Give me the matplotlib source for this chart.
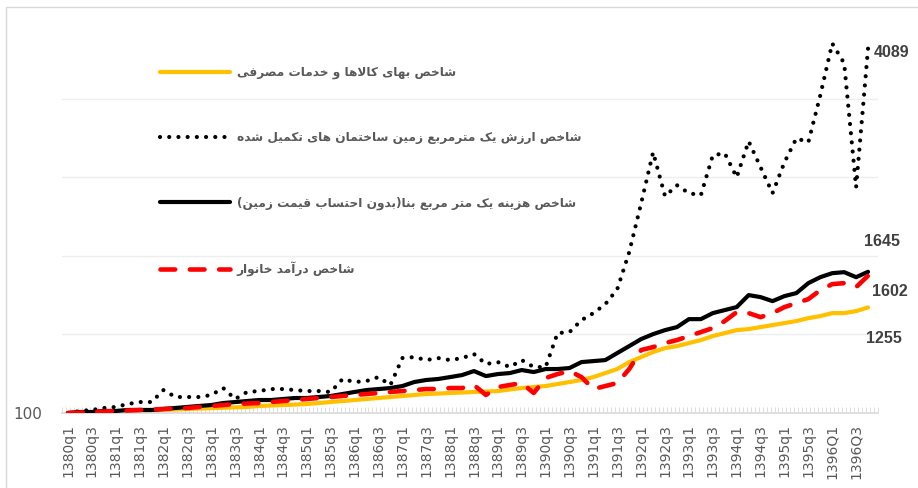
import matplotlib
matplotlib.use("Agg")
import matplotlib.pyplot as plt
from matplotlib.patches import Rectangle
import numpy as np

# quarters 1380q1 .. 1396Q4
quarters = [f"{y}q{q}" if y < 1396 else f"{y}Q{q}" for y in range(1380, 1397) for q in range(1, 5)]

cpi = [100, 104, 108, 112, 117, 121, 126, 130, 135, 139, 144, 149, 153, 158, 162, 166,
       177, 182, 187, 192, 198, 209, 220, 231, 242, 253, 264, 275, 286, 297, 308, 313,
       319, 324, 330, 335, 340, 357, 373, 384, 395, 417, 439, 461, 493, 537, 581, 657,
       712, 767, 810, 832, 865, 898, 942, 974, 1007, 1018, 1040, 1062, 1084, 1106, 1138, 1160,
       1193, 1193, 1215, 1255]

land = [100, 122, 133, 155, 166, 198, 220, 220, 351, 275, 275, 275, 297, 373, 253, 330,
        340, 362, 362, 351, 340, 340, 330, 472, 439, 450, 493, 406, 701, 712, 679, 701,
        679, 701, 745, 636, 657, 603, 679, 603, 603, 974, 985, 1116, 1193, 1291, 1455, 1860,
        2395, 2953, 2472, 2592, 2505, 2483, 2920, 2942, 2679, 3073, 2789, 2505, 2843, 3106, 3062, 3576,
        4144, 3926, 2570, 4089]

build = [100, 111, 111, 122, 122, 133, 133, 133, 144, 155, 166, 177, 187, 209, 220, 231,
         242, 242, 253, 264, 264, 275, 286, 308, 330, 351, 362, 373, 395, 439, 461, 472,
         493, 515, 559, 504, 526, 537, 570, 548, 581, 581, 592, 657, 668, 679, 756, 832,
         909, 963, 1007, 1040, 1127, 1127, 1193, 1226, 1259, 1390, 1368, 1324, 1379, 1412, 1521, 1586,
         1630, 1641, 1586, 1645]

income = [100, 105, 111, 116, 122, 127, 133, 138, 144, 149, 155, 166, 177, 187, 198, 204,
          209, 220, 231, 242, 253, 264, 275, 286, 297, 308, 319, 330, 340, 351, 362, 362,
          373, 373, 406, 297, 384, 406, 428, 319, 483, 526, 559, 493, 362, 395, 428, 581,
          789, 821, 865, 898, 942, 985, 1029, 1106, 1204, 1193, 1149, 1193, 1259, 1302, 1346, 1444,
          1510, 1521, 1477, 1602]

names = ["شاخص بهای کالاها و خدمات مصرفی",
         "شاخص ارزش یک مترمربع زمین ساختمان های تکمیل شده",
         "شاخص هزینه یک متر مربع بنا(بدون احتساب قیمت زمین)",
         "شاخص درآمد خانوار"]

# arabic contextual forms (isolated, final, initial, medial)
FORMS = {
    'ا': ('\uFE8D', '\uFE8E', None, None),
    'آ': ('\uFE81', '\uFE82', None, None),
    'ب': ('\uFE8F', '\uFE90', '\uFE91', '\uFE92'),
    'ت': ('\uFE95', '\uFE96', '\uFE97', '\uFE98'),
    'ح': ('\uFEA1', '\uFEA2', '\uFEA3', '\uFEA4'),
    'خ': ('\uFEA5', '\uFEA6', '\uFEA7', '\uFEA8'),
    'د': ('\uFEA9', '\uFEAA', None, None),
    'ر': ('\uFEAD', '\uFEAE', None, None),
    'ز': ('\uFEAF', '\uFEB0', None, None),
    'س': ('\uFEB1', '\uFEB2', '\uFEB3', '\uFEB4'),
    'ش': ('\uFEB5', '\uFEB6', '\uFEB7', '\uFEB8'),
    'ص': ('\uFEB9', '\uFEBA', '\uFEBB', '\uFEBC'),
    'ع': ('\uFEC9', '\uFECA', '\uFECB', '\uFECC'),
    'ف': ('\uFED1', '\uFED2', '\uFED3', '\uFED4'),
    'ق': ('\uFED5', '\uFED6', '\uFED7', '\uFED8'),
    'ل': ('\uFEDD', '\uFEDE', '\uFEDF', '\uFEE0'),
    'م': ('\uFEE1', '\uFEE2', '\uFEE3', '\uFEE4'),
    'ن': ('\uFEE5', '\uFEE6', '\uFEE7', '\uFEE8'),
    'ه': ('\uFEE9', '\uFEEA', '\uFEEB', '\uFEEC'),
    'و': ('\uFEED', '\uFEEE', None, None),
    'ی': ('\uFBFC', '\uFBFD', '\uFBFE', '\uFBFF'),
    'ک': ('\uFB8E', '\uFB8F', '\uFB90', '\uFB91'),
    'لا': ('\uFEFB', '\uFEFC', None, None),
}


def shape(s):
    toks = []
    i = 0
    while i < len(s):
        if s[i] == 'ل' and i + 1 < len(s) and s[i + 1] == 'ا':
            toks.append('لا')
            i += 2
        else:
            toks.append(s[i])
            i += 1
    out = []
    for k, t in enumerate(toks):
        if t not in FORMS:
            out.append(t)
            continue
        f = FORMS[t]
        prev = toks[k - 1] if k > 0 else None
        nxt = toks[k + 1] if k + 1 < len(toks) else None
        jp = prev in FORMS and FORMS[prev][2] is not None
        jn = f[2] is not None and nxt in FORMS
        if jp and jn:
            out.append(f[3])
        elif jp:
            out.append(f[1])
        elif jn:
            out.append(f[2])
        else:
            out.append(f[0])
    vis = ''.join(reversed(out))
    return vis.translate({ord('('): ')', ord(')'): '('})


x = np.arange(len(quarters))
grey = '#595959'

fig = plt.figure(figsize=(9.18, 4.88), dpi=100)
ax = fig.add_axes([62 / 918, 1 - 413 / 488, 816 / 918, 393 / 488])

l1, = ax.plot(x, cpi, color='#ffc000', lw=3, zorder=2, solid_capstyle='round')
l2, = ax.plot(x, land, color='black', lw=3, zorder=3, linestyle=(0, (0.01, 2.2)),
              dash_capstyle='round')
l3, = ax.plot(x, build, color='black', lw=3, zorder=4, solid_capstyle='round')
l4, = ax.plot(x, income, color='#ff0000', lw=3.3, zorder=5, linestyle=(0, (3.2, 3.2)),
              dash_capstyle='round')

ax.set_xlim(-0.5, len(quarters) - 0.5)
ax.set_ylim(100, 4400)

ax.set_xticks(x[::2])
ax.set_xticklabels(quarters[::2], rotation=90, fontsize=10, color=grey)
ax.set_xticks(np.arange(-0.5, len(quarters), 1 / 3), minor=True)
ax.tick_params(axis='x', which='major', length=0, pad=8)
ax.tick_params(axis='x', which='minor', length=4, color='#d9d9d9', direction='in')

ax.set_yticks([100])
ax.set_yticklabels(['100'], fontsize=11, color=grey)
ax.tick_params(axis='y', length=0, pad=14)
for g in [960, 1820, 2680, 3540]:
    ax.axhline(g, color='#eeeeee', lw=1, zorder=0)

for s in ['top', 'right', 'left']:
    ax.spines[s].set_visible(False)
ax.spines['bottom'].set_color('#d9d9d9')
ax.spines['bottom'].set_linewidth(1.2)

# end labels
ends = [(land[-1], 6, -4), (build[-1], -4, 30), (income[-1], 4, -16), (cpi[-1], -2, -31)]
for v, dx, dy in ends:
    ax.annotate(f"{v}", xy=(x[-1], v), xytext=(dx, dy), textcoords='offset pixels',
                ha='left', va='center', fontsize=11.5, fontweight='bold',
                family='Liberation Sans', color='#404040')

leg = ax.legend([l1, l2, l3, l4], [shape(n) for n in names],
                loc='upper left', bbox_to_anchor=(160 / 918, 1 - 66 / 488),
                bbox_transform=fig.transFigure, frameon=False,
                prop={'family': 'DejaVu Sans', 'weight': 'bold', 'size': 8.7},
                handlelength=5.8, handletextpad=0.55, labelspacing=4.3,
                borderpad=0, borderaxespad=0)
for t in leg.get_texts():
    t.set_color(grey)

fig.patches.append(Rectangle((6 / 918, -0.1), 1.2, 1 - 7 / 488 + 0.1,
                             transform=fig.transFigure, fill=False,
                             edgecolor='#d9d9d9', lw=1))

fig.savefig('out.png', dpi=100)
